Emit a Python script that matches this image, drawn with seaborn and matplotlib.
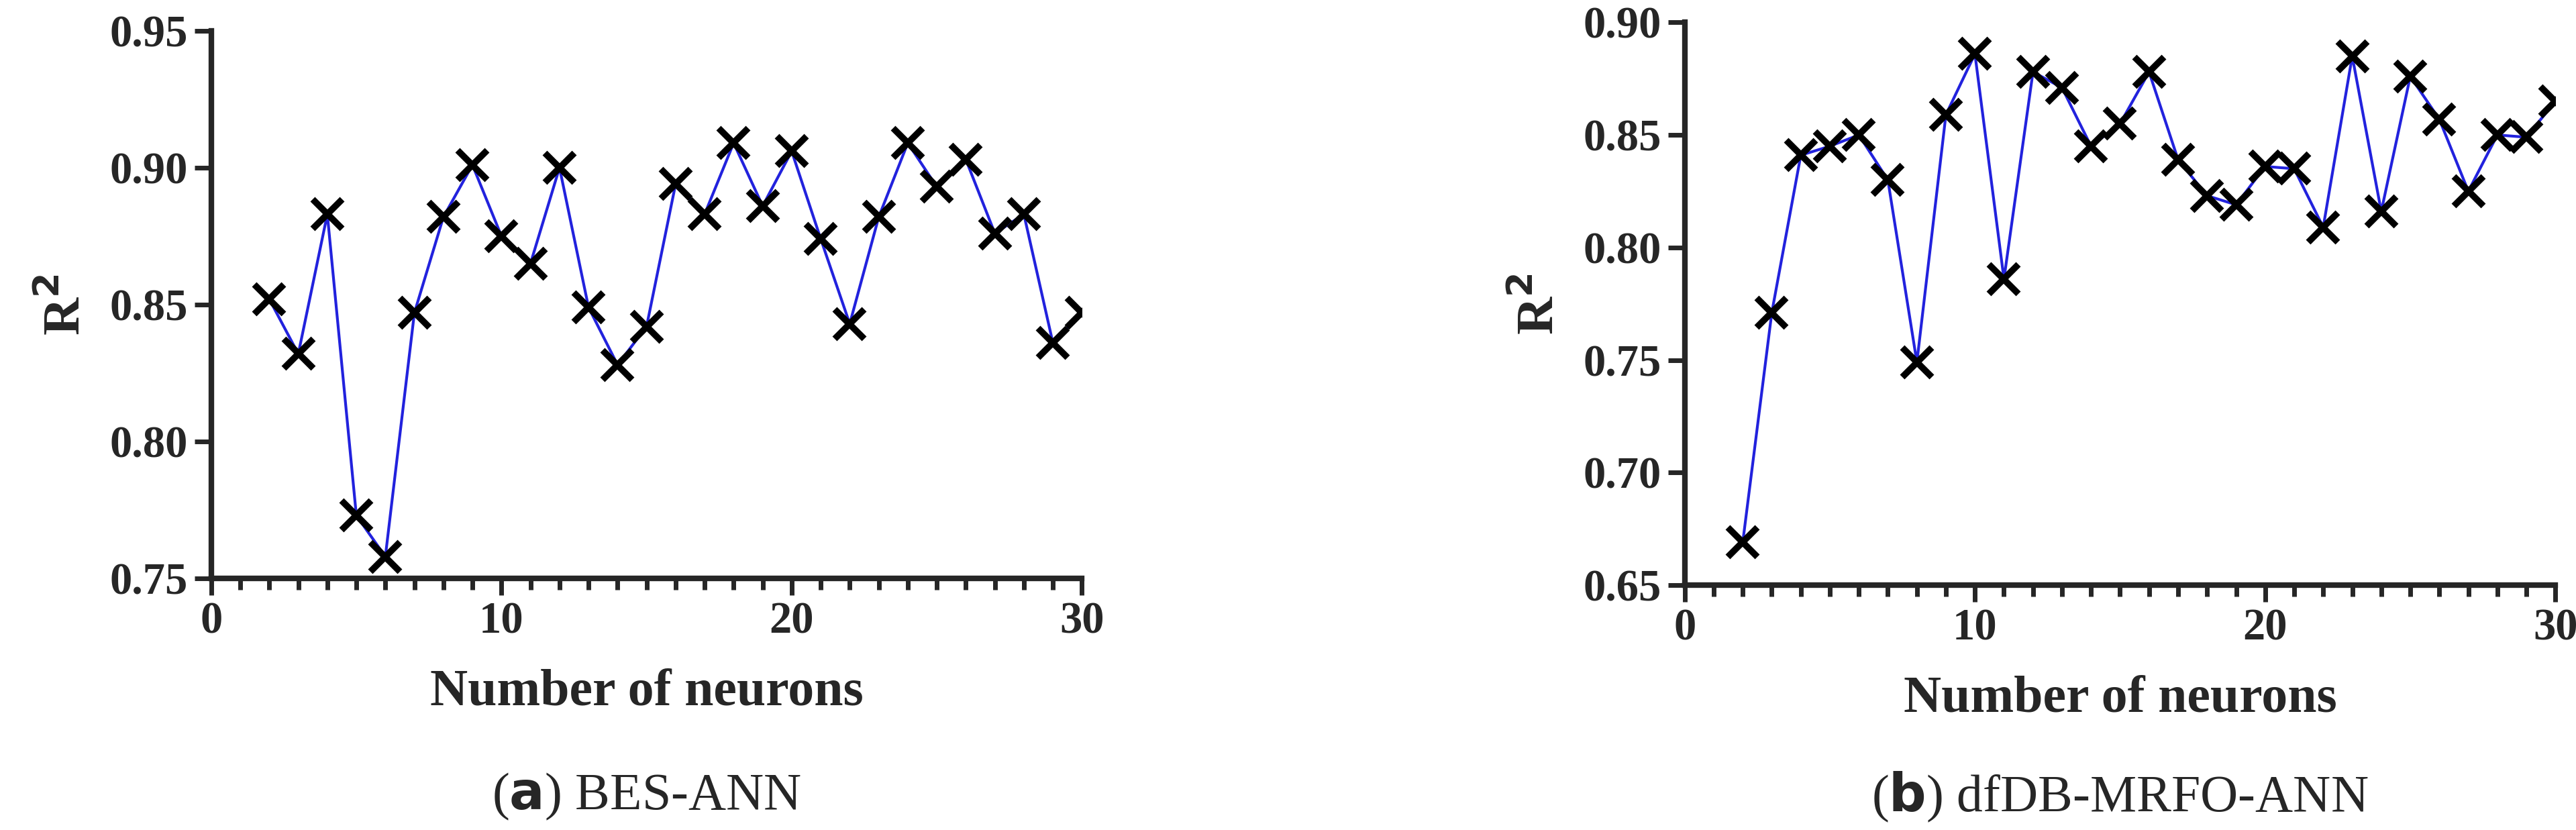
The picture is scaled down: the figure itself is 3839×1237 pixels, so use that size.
import numpy as np
import pandas as pd
import matplotlib
matplotlib.use("Agg")
import matplotlib.pyplot as plt
from matplotlib.ticker import MultipleLocator
import seaborn as sns

# data
neurons = list(range(2, 31))
bes_r2 = [0.852, 0.832, 0.883, 0.773, 0.758, 0.847, 0.882, 0.901, 0.875, 0.865,
          0.900, 0.849, 0.828, 0.842, 0.894, 0.883, 0.909, 0.886, 0.906, 0.874,
          0.843, 0.882, 0.909, 0.893, 0.903, 0.876, 0.883, 0.836, 0.847]
mrfo_r2 = [0.669, 0.771, 0.841, 0.845, 0.850, 0.830, 0.749, 0.859, 0.886, 0.786,
           0.878, 0.871, 0.845, 0.855, 0.878, 0.839, 0.823, 0.819, 0.836, 0.835,
           0.809, 0.885, 0.816, 0.876, 0.857, 0.825, 0.850, 0.849, 0.865]
captions = [("a", " BES-ANN"), ("b", " dfDB-MRFO-ANN")]

sns.set_style("ticks")
plt.rcParams["font.family"] = ["Liberation Serif", "DejaVu Serif"]

fig = plt.figure(figsize=(19.195, 6.185), dpi=200)
ax1 = fig.add_axes([0.082, 0.303, 0.338, 0.660])
ax2 = fig.add_axes([0.654, 0.295, 0.338, 0.678])

panels = [(ax1, bes_r2, (0.75, 0.95), [0.75, 0.80, 0.85, 0.90, 0.95]),
          (ax2, mrfo_r2, (0.65, 0.90), [0.65, 0.70, 0.75, 0.80, 0.85, 0.90])]

for (ax, vals, ylim, yt), (letter, name) in zip(panels, captions):
    df = pd.DataFrame({"n": neurons, "r2": vals})
    sns.lineplot(data=df, x="n", y="r2", ax=ax, color="#2222dd", lw=1.5,
                 marker="x", markersize=16, markeredgewidth=3.5,
                 markeredgecolor="black")
    ax.set_xlim(0, 30)
    ax.set_ylim(*ylim)
    ax.set_yticks(yt)
    ax.set_yticklabels([f"{v:.2f}" for v in yt])
    ax.xaxis.set_major_locator(MultipleLocator(10))
    ax.xaxis.set_minor_locator(MultipleLocator(1))
    sns.despine(ax=ax)
    for s in ["left", "bottom"]:
        ax.spines[s].set_linewidth(3)
    ax.tick_params(which="major", length=9, width=2.5, labelsize=24)
    ax.tick_params(which="minor", length=6, width=2.5)
    for lab in ax.get_xticklabels() + ax.get_yticklabels():
        lab.set_fontweight("bold")
    ax.set_xlabel("Number of neurons", fontsize=28, fontweight="bold", labelpad=14)
    ax.set_ylabel("R$^\\mathbf{2}$", fontsize=28, fontweight="bold", labelpad=10)
    cx = ax.get_position().x0 + ax.get_position().width / 2
    fig.text(cx - 0.055, 0.04, "(", fontsize=28, ha="left", va="center")
    t = fig.text(cx - 0.055, 0.04, "", fontsize=28)
    fig.text(cx, 0.04, "(" + r"$\mathbf{" + letter + "}$" + ")" + name,
             fontsize=28, ha="center", va="center")
    t.remove()

fig.texts = [tx for tx in fig.texts if tx.get_text() != "("]
fig.savefig("out.png", dpi=200)
